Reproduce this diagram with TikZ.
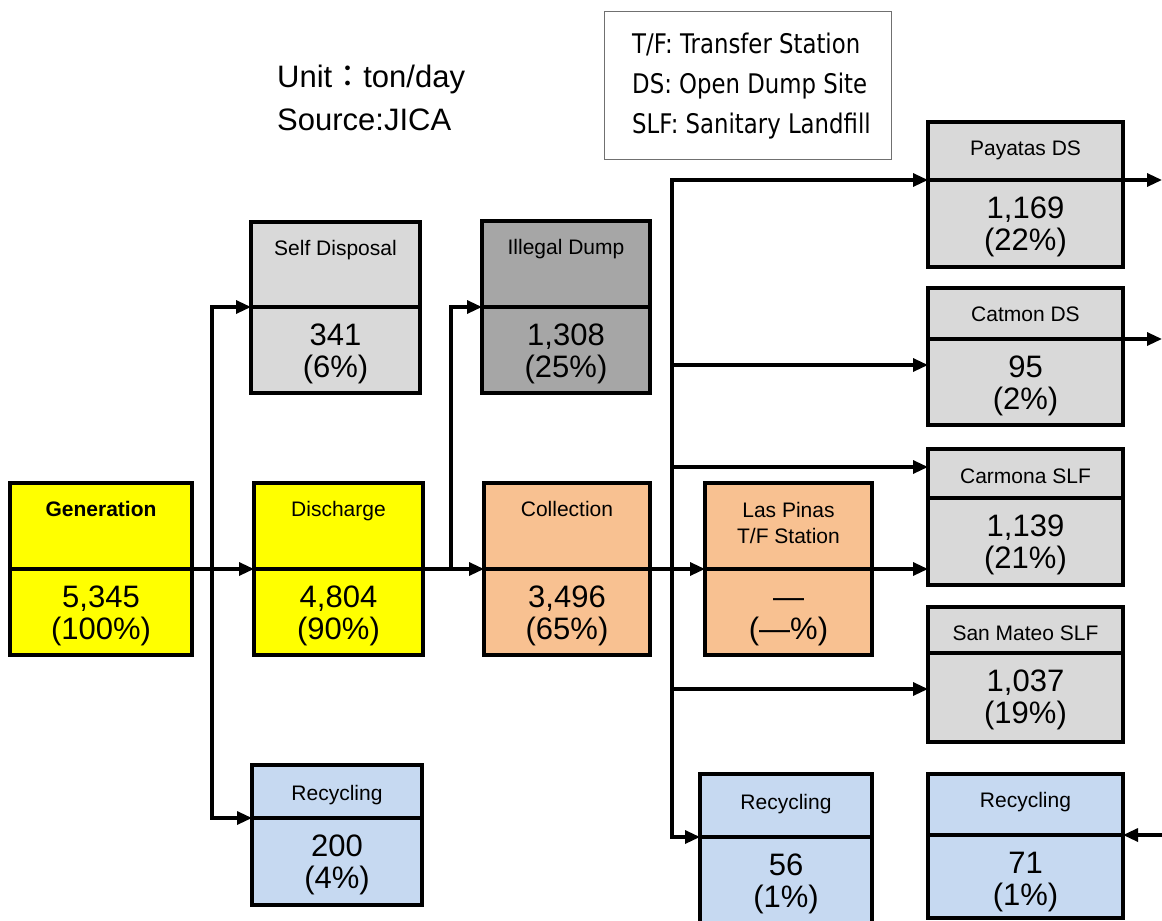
\documentclass[tikz,border=0pt]{standalone}
\usepackage{fontspec}
\setmainfont{Liberation Sans}
\newfontfamily\legfont[FakeStretch=0.845]{DejaVu Sans}
\newfontfamily\cjkfont{Noto Sans CJK JP}
\usetikzlibrary{arrows.meta,calc}
\definecolor{cyel}{HTML}{FFFF00}
\definecolor{corg}{HTML}{F8C191}
\definecolor{cgry}{HTML}{D9D9D9}
\definecolor{cdgr}{HTML}{A6A6A6}
\definecolor{cblu}{HTML}{C6D9F1}
\definecolor{legline}{HTML}{707070}
\tikzset{
  boxpart/.style={draw, line width=3.8pt, anchor=north west, inner sep=0pt, outer sep=0pt},
  ttl/.style={anchor=base, inner sep=0pt, font=\fontsize{21}{24}\selectfont},
  val/.style={anchor=base, inner sep=0pt, font=\fontsize{31}{34}\selectfont},
  flow/.style={line width=3.2pt, -{Triangle[length=15pt,width=13pt]}},
  legtxt/.style={anchor=base west, inner sep=0pt, font=\legfont\fontsize{27}{30}\selectfont},
  unittxt/.style={anchor=base west, inner sep=0pt, font=\fontsize{31}{34}\selectfont}
}
\newcommand\flowbox[7]{%
  \pgfmathsetmacro\fbw{#3-#2}%
  \pgfmathsetmacro\fbt{#5-#4}%
  \pgfmathsetmacro\fbv{#6-#5}%
  \node[boxpart,fill=#7,minimum width=\fbw pt,minimum height=\fbt pt] (#1T) at (#2,#4) {};
  \node[boxpart,fill=#7,minimum width=\fbw pt,minimum height=\fbv pt] (#1V) at (#2,#5) {};
}
\newcommand\boxtitle[3][]{\node[ttl,#1] at ($(#2T.north)+(0,33)$) {#3};}
\newcommand\boxvals[3]{%
  \node[val] at ($(#1V.north)+(0,38)$) {#2};
  \node[val] at ($(#1V.north)+(0,70)$) {#3};
}
\begin{document}
\begin{tikzpicture}[x=1pt,y=-1pt]
\fill[white] (0,0) rectangle (1162,921);
\useasboundingbox (0,0) rectangle (1162,921);

% texts top-left
\node[unittxt] (unit) at (277,87) {Unit{\cjkfont ：}ton/day};
\node[unittxt] (src) at (277,130) {Source:JICA};

% legend
\node[draw=legline, line width=1pt, fill=white, anchor=north west, inner sep=0pt,
      minimum width=287pt, minimum height=148pt] (legend) at (604,11) {};
\node[legtxt] (lg1) at (632,53) {T/F: Transfer Station};
\node[legtxt] (lg2) at (632,93) {DS: Open Dump Site};
\node[legtxt] (lg3) at (632,133) {SLF: Sanitary Landfill};

% boxes
\flowbox{gen}{10}{192}{483}{569}{655}{cyel}
\flowbox{dis}{254}{423}{483}{569}{655}{cyel}
\flowbox{col}{484}{650}{483}{569}{655}{corg}
\flowbox{lp}{705}{872}{483}{569}{655}{corg}
\flowbox{sd}{251}{420}{222}{307}{393}{cgry}
\flowbox{id}{482}{650}{221}{307}{393}{cdgr}
\flowbox{rcA}{252}{422}{765}{818}{905}{cblu}
\flowbox{pay}{928}{1123}{122}{180}{267}{cgry}
\flowbox{cat}{928}{1123}{288}{339}{425}{cgry}
\flowbox{car}{928}{1123}{449}{498}{585}{cgry}
\flowbox{sm}{928}{1123}{607}{653}{742}{cgry}
\flowbox{rcB}{700}{872}{774}{837}{935}{cblu}
\flowbox{rcC}{928}{1123}{774}{835}{918}{cblu}

% titles
\boxtitle[font=\bfseries\fontsize{21}{24}\selectfont]{gen}{Generation}
\boxtitle{dis}{Discharge}
\boxtitle{col}{Collection}
\node[ttl] at ($(lpT.north)+(0,34)$) {Las Pinas};
\node[ttl] at ($(lpT.north)+(0,60)$) {T/F Station};
\boxtitle{sd}{Self Disposal}
\boxtitle{id}{Illegal Dump}
\node[ttl] at ($(rcAT.north)+(0,35)$) {Recycling};
\boxtitle{pay}{Payatas DS}
\boxtitle{cat}{Catmon DS}
\node[ttl] at ($(carT.north)+(0,34)$) {Carmona SLF};
\boxtitle{sm}{San Mateo SLF}
\node[ttl] at ($(rcBT.north)+(0,35)$) {Recycling};
\node[ttl] at ($(rcCT.north)+(0,33)$) {Recycling};

% values
\boxvals{gen}{5,345}{(100\%)}
\boxvals{dis}{4,804}{(90\%)}
\boxvals{col}{3,496}{(65\%)}
\boxvals{lp}{—}{(—\%)}
\boxvals{sd}{341}{(6\%)}
\boxvals{id}{1,308}{(25\%)}
\boxvals{rcA}{200}{(4\%)}
\boxvals{pay}{1,169}{(22\%)}
\boxvals{cat}{95}{(2\%)}
\boxvals{car}{1,139}{(21\%)}
\boxvals{sm}{1,037}{(19\%)}
\boxvals{rcB}{56}{(1\%)}
\boxvals{rcC}{71}{(1\%)}

% junctions
\coordinate (j1) at (212,569);
\coordinate (j2) at (451,569);
\coordinate (j3) at (672,569);
\coordinate (payOut) at (1162,180);
\coordinate (catOut) at (1162,339);
\coordinate (rcIn) at (1162,835);

% connectors
\draw[flow] (genV.north east) -- (disV.north west);
\draw[flow] (j1) |- (sdV.north west);
\draw[flow] (j1) |- (rcAV.north west);
\draw[flow] (disV.north east) -- (colV.north west);
\draw[flow] (j2) |- (idV.north west);
\draw[flow] (colV.north east) -- (lpV.north west);
\draw[flow] (j3) |- (payV.north west);
\draw[flow] (j3) |- ($(catV.north west)+(0,26)$);
\draw[flow] (j3) |- ($(carT.north west)+(0,18)$);
\draw[flow] (j3) |- ($(smV.north west)+(0,36)$);
\draw[flow] (j3) |- (rcBV.north west);
\draw[flow] (lpV.north east) -- (lpV.north east -| carV.west);
\draw[flow] (payV.north east) -- (payOut);
\draw[flow] (catV.north east) -- (catOut);
\draw[flow] (rcIn) -- (rcCV.north east);
\end{tikzpicture}
\end{document}
